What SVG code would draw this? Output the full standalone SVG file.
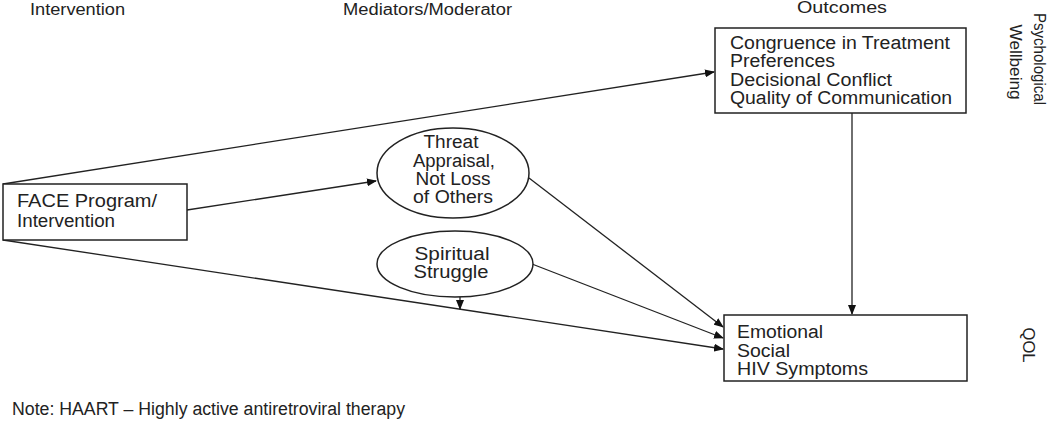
<svg xmlns="http://www.w3.org/2000/svg" width="1050" height="423" viewBox="0 0 1050 423">
<style>
text{font-family:"Liberation Sans",Arial,sans-serif;fill:#222;font-size:18px}
.hdr{font-size:16px}
.box{fill:#fff;stroke:#222;stroke-width:1.5}
.edge{stroke:#222;stroke-width:1.3;fill:none}
</style>
<defs>
<marker id="arr" markerWidth="10" markerHeight="8" refX="9" refY="4" orient="auto" markerUnits="userSpaceOnUse">
<path d="M0,0 L10,4 L0,8 z" fill="#111"/>
</marker>
</defs>
<rect width="1050" height="423" fill="#fff"/>
<g id="headers">
<text class="hdr" x="30" y="15" textLength="95" lengthAdjust="spacingAndGlyphs">Intervention</text>
<text class="hdr" x="343" y="15" textLength="169" lengthAdjust="spacingAndGlyphs">Mediators/Moderator</text>
<text class="hdr" x="797" y="13" textLength="90" lengthAdjust="spacingAndGlyphs">Outcomes</text>
<text class="hdr" transform="translate(1034,59) rotate(90)" text-anchor="middle" textLength="92" lengthAdjust="spacingAndGlyphs">Psychological</text>
<text class="hdr" transform="translate(1010,62) rotate(90)" text-anchor="middle" textLength="75" lengthAdjust="spacingAndGlyphs">Wellbeing</text>
<text class="hdr" transform="translate(1023,345) rotate(90)" text-anchor="middle" textLength="35" lengthAdjust="spacingAndGlyphs">QOL</text>
</g>
<g id="connectors">
<line class="edge" x1="3" y1="184" x2="714" y2="72" marker-end="url(#arr)"/>
<line class="edge" x1="187" y1="210" x2="376" y2="181" marker-end="url(#arr)"/>
<line class="edge" x1="3" y1="240" x2="723" y2="349" marker-end="url(#arr)"/>
<line class="edge" x1="529" y1="178" x2="723" y2="327" marker-end="url(#arr)"/>
<line class="edge" x1="532" y1="264" x2="723" y2="338" marker-end="url(#arr)"/>
<line class="edge" x1="852" y1="113" x2="852" y2="314" marker-end="url(#arr)"/>
<line class="edge" x1="460" y1="297" x2="460" y2="309" marker-end="url(#arr)"/>
</g>
<g id="face">
<rect class="box" x="3" y="184" width="184" height="56"/>
<text x="17" y="207" textLength="140" lengthAdjust="spacingAndGlyphs">FACE Program/</text>
<text x="17" y="227" textLength="98" lengthAdjust="spacingAndGlyphs">Intervention</text>
</g>
<g id="threat">
<ellipse class="box" cx="453" cy="173" rx="76" ry="45"/>
<text x="451" y="148" text-anchor="middle" textLength="55" lengthAdjust="spacingAndGlyphs">Threat</text>
<text x="454" y="167" text-anchor="middle" textLength="82" lengthAdjust="spacingAndGlyphs">Appraisal,</text>
<text x="453" y="185" text-anchor="middle" textLength="75" lengthAdjust="spacingAndGlyphs">Not Loss</text>
<text x="453" y="203" text-anchor="middle" textLength="80" lengthAdjust="spacingAndGlyphs">of Others</text>
</g>
<g id="spiritual">
<ellipse class="box" cx="455" cy="264" rx="78" ry="33"/>
<text x="452" y="260" text-anchor="middle" textLength="75" lengthAdjust="spacingAndGlyphs">Spiritual</text>
<text x="451" y="278" text-anchor="middle" textLength="75" lengthAdjust="spacingAndGlyphs">Struggle</text>
</g>
<g id="outcome-top">
<rect class="box" x="715" y="28" width="251" height="85"/>
<text x="730" y="49" textLength="220" lengthAdjust="spacingAndGlyphs">Congruence in Treatment</text>
<text x="730" y="67" textLength="105" lengthAdjust="spacingAndGlyphs">Preferences</text>
<text x="730" y="86" textLength="162" lengthAdjust="spacingAndGlyphs">Decisional Conflict</text>
<text x="730" y="104" textLength="222" lengthAdjust="spacingAndGlyphs">Quality of Communication</text>
</g>
<g id="outcome-bottom">
<rect class="box" x="724" y="315" width="243" height="66"/>
<text x="737" y="338" textLength="86" lengthAdjust="spacingAndGlyphs">Emotional</text>
<text x="737" y="357" textLength="53" lengthAdjust="spacingAndGlyphs">Social</text>
<text x="737" y="375" textLength="131" lengthAdjust="spacingAndGlyphs">HIV Symptoms</text>
</g>
<g id="note">
<text x="12" y="415" font-size="14" textLength="393" lengthAdjust="spacingAndGlyphs">Note: HAART – Highly active antiretroviral therapy</text>
</g>
</svg>
